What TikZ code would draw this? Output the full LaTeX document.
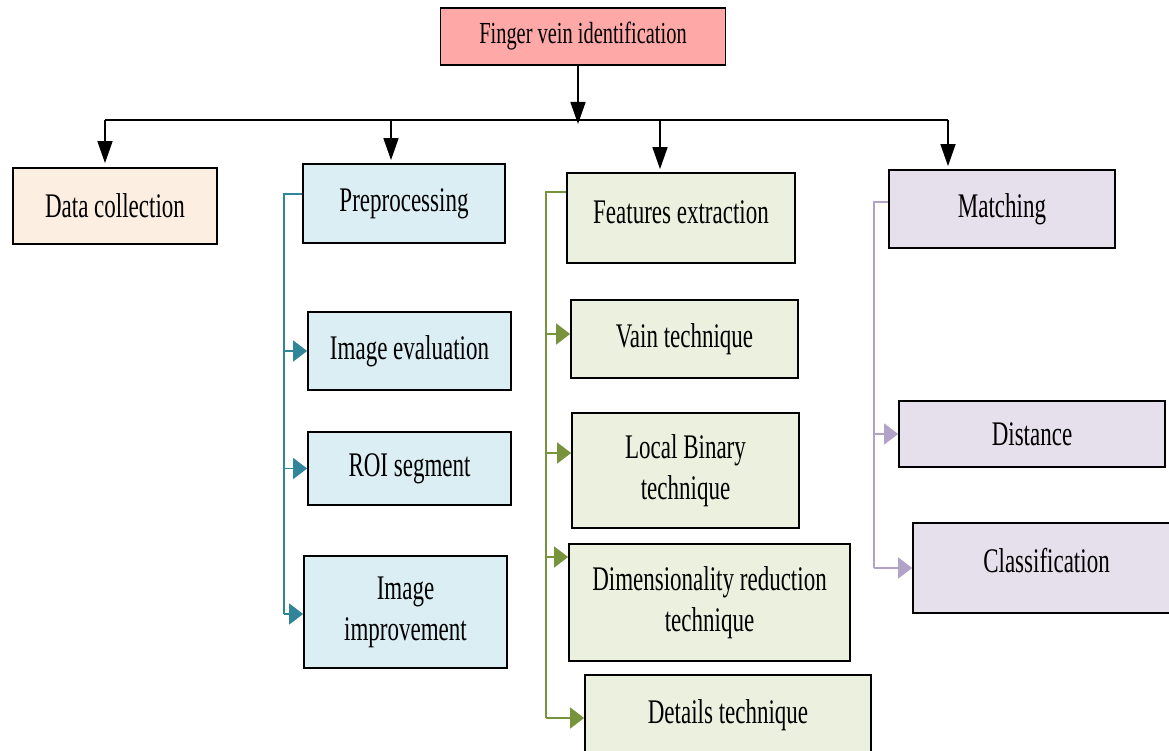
\documentclass[tikz,border=0pt]{standalone}
\usepackage{fontspec}
\setmainfont{Liberation Serif}
\usepackage{graphicx}
\usetikzlibrary{arrows.meta}
\definecolor{titlefill}{RGB}{255,168,168}
\definecolor{datafill}{RGB}{253,238,226}
\definecolor{bluefill}{RGB}{219,238,244}
\definecolor{greenfill}{RGB}{235,241,222}
\definecolor{purplefill}{RGB}{229,224,236}
\definecolor{tealline}{RGB}{49,133,155}
\definecolor{greenline}{RGB}{119,147,60}
\definecolor{purpleline}{RGB}{179,162,199}
\newcommand{\tx}[1]{\scalebox{1}[1.5]{#1}}
\newcommand{\ttx}[2]{\scalebox{1}[1.5]{\begin{tabular}{@{}c@{}}#1\\#2\end{tabular}}}
\begin{document}
\begin{tikzpicture}[x=1pt,y=-1pt,
  box/.style={draw=black, line width=1.8pt, inner sep=0pt, align=center,
    font=\fontsize{23}{27.6}\selectfont},
  blk/.style={line width=1.6pt, -{Triangle[length=22pt,width=15pt]}},
  tealc/.style={draw=tealline, line width=1.8pt},
  greenc/.style={draw=greenline, line width=1.8pt},
  purplec/.style={draw=purpleline, line width=1.8pt},
  tealarr/.style={tealc, -{Triangle[length=14pt,width=21pt]}, tealline},
  greenarr/.style={greenc, -{Triangle[length=14pt,width=21pt]}, greenline},
  purplearr/.style={purplec, -{Triangle[length=14pt,width=21pt]}, purpleline}]
\useasboundingbox (0,0) rectangle (1169,751);
\clip (0,0) rectangle (1169,751);

% title
\node[box, fill=titlefill, minimum width=285, minimum height=57,
  font=\fontsize{20.4}{24}\selectfont] (T) at (583,36.5) {\tx{Finger vein identification}};

% level 1
\node[box, fill=datafill, minimum width=204, minimum height=76] (D) at (115,206) {\tx{Data collection}};
\node[box, fill=bluefill, minimum width=202, minimum height=79] (P) at (404,203.5) {\tx{Preprocessing}};
\node[box, fill=greenfill, minimum width=228, minimum height=90] (F) at (681,218) {};
\node[font=\fontsize{23}{27.6}\selectfont, inner sep=0pt] (Ft) at (681,212) {\tx{Features extraction}};
\node[box, fill=purplefill, minimum width=226, minimum height=78] (M) at (1002,209) {\tx{Matching}};

% preprocessing children
\node[box, fill=bluefill, minimum width=203, minimum height=78] (IE) at (409.5,351) {\tx{Image evaluation}};
\node[box, fill=bluefill, minimum width=203, minimum height=73] (ROI) at (409.5,468.5) {\tx{ROI segment}};
\node[box, fill=bluefill, minimum width=203, minimum height=112] (II) at (405.5,612) {\ttx{Image}{improvement}};

% features children
\node[box, fill=greenfill, minimum width=227, minimum height=78] (V) at (684.5,339) {\tx{Vain technique}};
\node[box, fill=greenfill, minimum width=227, minimum height=115] (LB) at (685.5,470.5) {\ttx{Local Binary}{technique}};
\node[box, fill=greenfill, minimum width=281, minimum height=117] (DR) at (709.5,602.5) {\ttx{Dimensionality reduction}{technique}};
\node[box, fill=greenfill, minimum width=286, minimum height=80] (DT) at (728,715) {\tx{Details technique}};

% matching children
\node[box, fill=purplefill, minimum width=266, minimum height=66] (DI) at (1032,434) {\tx{Distance}};
\node[box, fill=purplefill, minimum width=267, minimum height=90] (C) at (1046.5,568) {};
\node[font=\fontsize{23}{27.6}\selectfont, inner sep=0pt] (Ct) at (1046.5,561) {\tx{Classification}};

% top connectors
\coordinate (J) at (578,120);
\coordinate (h1) at (105,120);
\coordinate (h2) at (391,120);
\coordinate (h3) at (660,120);
\coordinate (h4) at (948,120);
\draw[blk] (T.south -| J) -- ([yshift=-4pt]J);
\draw[line width=1.6pt] (h1) -- (h4);
\draw[blk] (h1) -- ([yshift=4pt]h1 |- D.north);
\draw[blk] (h2) -- ([yshift=3pt]h2 |- P.north);
\draw[blk] (h3) -- ([yshift=3pt]h3 |- F.north);
\draw[blk] (h4) -- ([yshift=3pt]h4 |- M.north);

% preprocessing bracket
\coordinate (pb) at (284,194);
\coordinate (pe) at (284,614);
\draw[tealc] (P.west |- pb) -- (pb) -- (pe);
\draw[tealarr] (pb |- IE.west) -- (IE.west);
\draw[tealarr] (pb |- ROI.west) -- (ROI.west);
\draw[tealarr] (pe) -- (II.west |- pe);

% features bracket
\coordinate (fb) at (546,192);
\coordinate (fe) at (546,718);
\coordinate (f1) at (546,334);
\coordinate (f2) at (546,453);
\coordinate (f3) at (546,557);
\draw[greenc] (F.west |- fb) -- (fb) -- (fe);
\draw[greenarr] (f1) -- (V.west |- f1);
\draw[greenarr] (f2) -- (LB.west |- f2);
\draw[greenarr] (f3) -- (DR.west |- f3);
\draw[greenarr] (fe) -- (DT.west |- fe);

% matching bracket
\coordinate (mb) at (874,202);
\coordinate (me) at (874,568);
\draw[purplec] (M.west |- mb) -- (mb) -- (me);
\draw[purplearr] (mb |- DI.west) -- (DI.west);
\draw[purplearr] (me) -- (C.west);
\end{tikzpicture}
\end{document}
